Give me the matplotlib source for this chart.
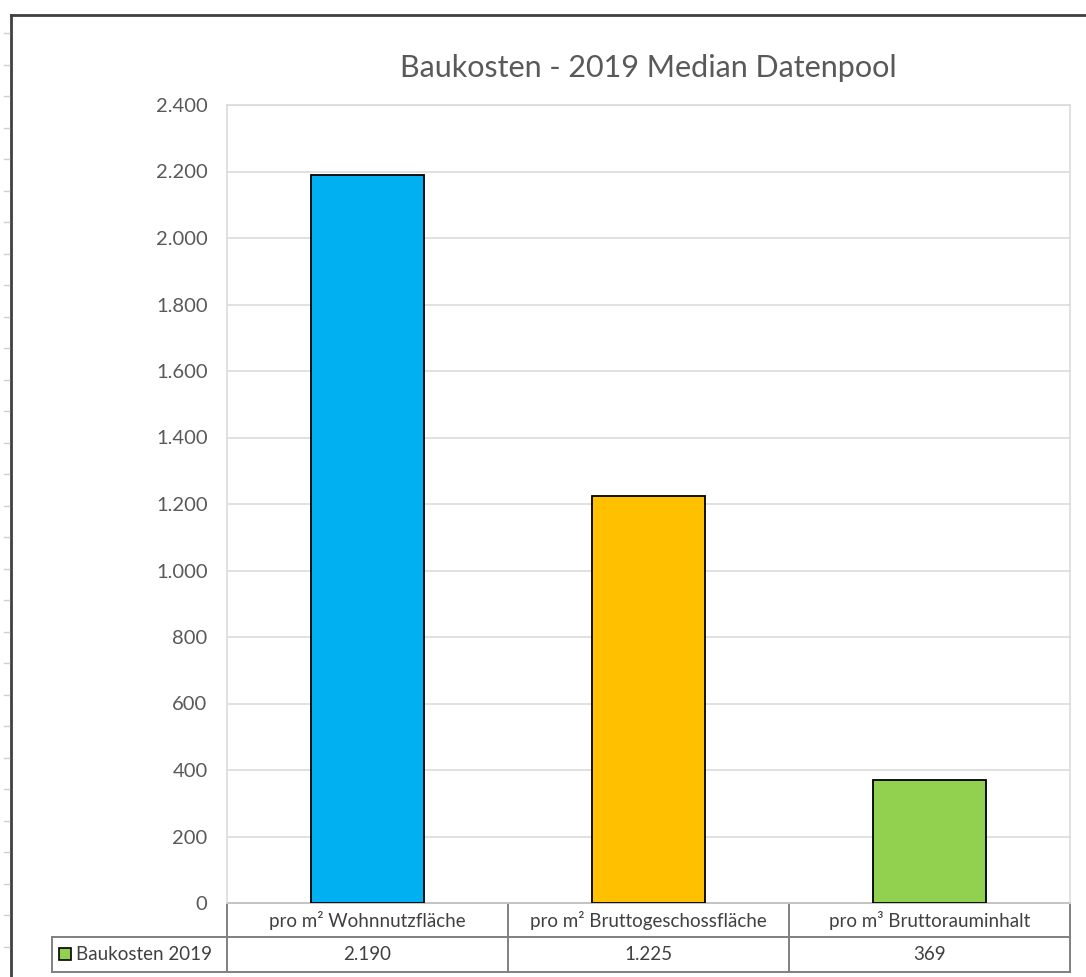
import matplotlib
matplotlib.use("Agg")
import matplotlib.pyplot as plt
from matplotlib.patches import Rectangle
from matplotlib.lines import Line2D
import matplotlib.transforms as mtransforms

plt.rcParams['font.family'] = ['Lato', 'DejaVu Sans']

categories = ["pro m² Wohnnutzfläche", "pro m² Bruttogeschossfläche", "pro m³ Bruttorauminhalt"]
values = [2190, 1225, 369]
value_labels = ["2.190", "1.225", "369"]
series_name = "Baukosten 2019"
bar_colors = ["#00B0F0", "#FFC000", "#92D050"]
yticks = [0, 200, 400, 600, 800, 1000, 1200, 1400, 1600, 1800, 2000, 2200, 2400]
ytick_labels = ["0", "200", "400", "600", "800", "1.000", "1.200", "1.400", "1.600",
                "1.800", "2.000", "2.200", "2.400"]
title = "Baukosten - 2019 Median Datenpool"

W, H = 1086, 977
fig = plt.figure(figsize=(W / 100, H / 100), dpi=100)
fig.patch.set_facecolor("white")

def fx(px):
    return px / W

def fy(py):
    return 1 - py / H

# outer frame (Excel-like)
fig.add_artist(Line2D([fx(11), fx(11)], [fy(15), 0], color="#404040", lw=2.0, transform=fig.transFigure))
fig.add_artist(Line2D([fx(11), 1], [fy(15), fy(15)], color="#404040", lw=2.0, transform=fig.transFigure))
for k in range(int((H - 20) / 31.5) + 1):
    yy = 33 + k * 31.5
    if yy < H:
        fig.add_artist(Line2D([fx(4), fx(9)], [fy(yy), fy(yy)], color="#D0D0D0", lw=1,
                              transform=fig.transFigure))

left, right, top, bottom = 227, 1070, 105, 903
ax = fig.add_axes([fx(left), fy(bottom), fx(right) - fx(left), (bottom - top) / H])

x = list(range(len(categories)))
ax.bar(x, values, width=0.4, color=bar_colors, edgecolor="black", linewidth=1.3, zorder=3)
ax.set_xlim(-0.5, len(categories) - 0.5)
ax.set_ylim(0, 2400)
ax.set_yticks(yticks)
ax.set_yticklabels(ytick_labels)
ax.yaxis.grid(True, color="#D9D9D9", lw=1.1, zorder=0)
ax.set_axisbelow(True)
ax.set_xticks([])
ax.tick_params(axis="y", length=0, pad=14, labelsize=14.5, labelcolor="#595959")
for s in ax.spines.values():
    s.set_color("#D9D9D9")
    s.set_linewidth(1.1)

fig.text(0.5 * (fx(left) + fx(right)), fy(68), title, ha="center", va="center",
         fontsize=22, color="#595959")

# data table below plot
trans = mtransforms.blended_transform_factory(ax.transData, ax.transAxes)
axh = bottom - top
def ay(py):
    return (bottom - py) / axh

row1_top, row1_bot, row2_bot = 903, 937, 972
x_leg = -0.5 - (left - 52) / ((right - left) / len(categories))
tcol = "#808080"
tlw = 1.4
ax.add_line(Line2D([-0.5, len(categories) - 0.5], [ay(row1_top)] * 2, color=tcol, lw=tlw,
                   transform=trans, clip_on=False))
ax.add_line(Line2D([x_leg, len(categories) - 0.5], [ay(row1_bot)] * 2, color=tcol, lw=tlw,
                   transform=trans, clip_on=False))
ax.add_line(Line2D([x_leg, len(categories) - 0.5], [ay(row2_bot)] * 2, color=tcol, lw=tlw,
                   transform=trans, clip_on=False))
for b in [i - 0.5 for i in range(len(categories) + 1)]:
    ax.add_line(Line2D([b, b], [ay(row1_top), ay(row2_bot)], color=tcol, lw=tlw,
                       transform=trans, clip_on=False))
ax.add_line(Line2D([x_leg, x_leg], [ay(row1_bot), ay(row2_bot)], color=tcol, lw=tlw,
                   transform=trans, clip_on=False))

tfs = 13.5
for i, (c, v) in enumerate(zip(categories, value_labels)):
    ax.text(i, ay((row1_top + row1_bot) / 2), c, transform=trans, ha="center", va="center",
            fontsize=tfs, color="#404040", clip_on=False)
    ax.text(i, ay((row1_bot + row2_bot) / 2), v, transform=trans, ha="center", va="center",
            fontsize=tfs, color="#404040", clip_on=False)

# legend key + series name
ax.add_patch(Rectangle((fx(59), fy(960)), fx(12), (12) / H, transform=fig.transFigure,
                       facecolor=bar_colors[2], edgecolor="black", lw=1.2, clip_on=False))
fig.text(fx(76), fy((row1_bot + row2_bot) / 2), series_name, ha="left", va="center",
         fontsize=tfs, color="#404040")

fig.savefig("out.png", dpi=100, facecolor="white")
